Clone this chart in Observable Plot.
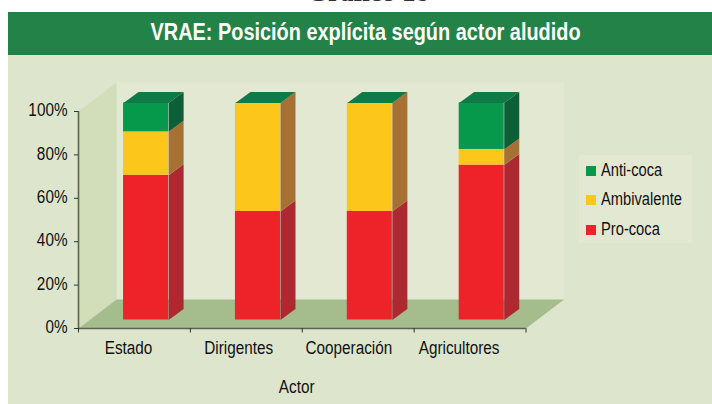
<!DOCTYPE html>
<html lang="es">
<head>
<meta charset="utf-8">
<script src="https://cdn.jsdelivr.net/npm/d3@7"></script>
<script src="https://cdn.jsdelivr.net/npm/@observablehq/plot@0.6"></script>
<style>
  html, body { margin: 0; padding: 0; background: #fff; }
  #page { position: relative; width: 712px; height: 404px; overflow: hidden; font-family: "Liberation Sans", sans-serif; }
  #over { position: absolute; left: 0; width: 736px; top: -23px; text-align: center; font: bold 27px/30px "Liberation Serif", serif; color: #333; }
  #title { position: absolute; left: 8px; right: 0; top: 12px; height: 43px; line-height: 40px; background: #238247; color: #fff; font-weight: bold; font-size: 23px; text-align: center; padding-left: 12px; box-sizing: border-box; }
  #title span { display: inline-block; transform: scaleX(0.865); white-space: nowrap; }
  #plot { position: absolute; left: 8px; top: 55px; width: 704px; height: 349px; background: #dde5cd; }
  #legend { position: absolute; left: 579px; top: 155px; width: 113px; height: 88px; background: #e3e8d3; font-size: 17.5px; color: #111; }
  #legend div { position: absolute; left: 7px; height: 20px; line-height: 20px; white-space: nowrap; }
  #legend i { display: inline-block; width: 10px; height: 10px; margin-right: 5px; }
  #legend span { display: inline-block; transform: scaleX(0.84); transform-origin: left center; }
</style>
</head>
<body>
<div id="page">
  <div id="over">Gráfico 18</div>
  <div id="title"><span>VRAE: Posición explícita según actor aludido</span></div>
  <div id="plot"></div>
  <div id="legend"></div>
</div>
<script>
const actors = ["Estado", "Dirigentes", "Cooperación", "Agricultores"];
const proCoca = [66.7, 50, 50, 71.4];
const ambivalente = [20, 50, 50, 7.2];
const antiCoca = [13.3, 0, 0, 21.4];
const seriesNames = ["Pro-coca", "Ambivalente", "Anti-coca"];
const seriesValues = [proCoca, ambivalente, antiCoca];
const frontColors = ["#ee2229", "#fcc71a", "#07994b"];
const sideColors = ["#ae2831", "#a67133", "#0d5f38"];
const topColor = "#0f7a46";
const yTicks = [0, 20, 40, 60, 80, 100];

// Pseudo-3D depth, expressed in scale units
const pxX = 1 / 111.75, pxY = 100 / 217;
const wallDX = 38 * pxX, wallDY = 29 * pxY;
const barDX = 15 * pxX, barDY = 11 * pxY;
const barLeft = 45 * pxX, barWidth = 45 * pxX;
const barLift = -8.5;
const n = actors.length;

const segments = [];
actors.forEach((actor, i) => {
  let base = 0;
  seriesValues.forEach((vals, s) => {
    if (vals[i] > 0) segments.push({actor, i, s, x1: i + barLeft, x2: i + barLeft + barWidth, y1: base, y2: base + vals[i], fill: frontColors[s], side: sideColors[s]});
    base += vals[i];
  });
});
const poly = (id, fill, pts) => pts.map(([x, y]) => ({id, fill, x, y}));
const sides = segments.flatMap((d, k) => poly("s" + k, d.side, [
  [d.x2, d.y1], [d.x2 + barDX, d.y1 + barDY], [d.x2 + barDX, d.y2 + barDY], [d.x2, d.y2]]));
const tops = actors.flatMap((a, i) => {
  const l = i + barLeft, r = l + barWidth;
  return poly("t" + i, topColor, [[l, 100], [r, 100], [r + barDX, 100 + barDY], [l + barDX, 100 + barDY]]);
});
const leftWall = poly("left", "#d2ddba", [[0, 0], [wallDX, wallDY], [wallDX, 100 + wallDY], [0, 100]]);
const backWall = poly("back", "#e3e8d3", [[wallDX, wallDY], [n + wallDX, wallDY], [n + wallDX, 100 + wallDY], [wallDX, 100 + wallDY]]);
const floor = poly("floor", "#a5bd8d", [[0, 0], [n, 0], [n + wallDX, wallDY], [wallDX, wallDY]]);
const face = (rows, extra = {}) => Plot.line(rows, {x: "x", y: "y", z: "id", fill: "fill", stroke: null, curve: "linear-closed", ...extra});

const chart = Plot.plot({
  width: 704,
  height: 349,
  marginLeft: 70, marginRight: 186.5, marginTop: 56, marginBottom: 76,
  style: {background: "transparent", fontFamily: '"Liberation Sans", sans-serif', fontSize: "18px", color: "#111", overflow: "visible"},
  x: {type: "linear", domain: [0, n]},
  y: {type: "linear", domain: [0, 100]},
  color: {type: "identity"},
  marks: [
    face(backWall),
    face(leftWall),
    face(floor),
    face(sides, {dy: barLift}),
    Plot.rect(segments, {x1: "x1", x2: "x2", y1: "y1", y2: "y2", fill: "fill", dy: barLift}),
    face(tops, {dy: barLift}),
    Plot.ruleY([0], {x1: 0, x2: n, stroke: "#5c6353", strokeWidth: 1.6}),
    Plot.ruleX([0], {y1: 0, y2: 100, stroke: "#5c6353", strokeWidth: 1.6}),
    Plot.axisY({ticks: yTicks, tickFormat: () => "", tickSize: 4, stroke: "#333", label: null}),
    Plot.axisY({ticks: yTicks, tickFormat: d => d + "%", tickSize: 0, tickPadding: 11, dy: -1, label: null, fontSize: 18, fill: "#111"}),
    Plot.axisX({ticks: d3.range(n + 1), tickFormat: () => "", tickSize: 4.5, stroke: "#333", label: null}),
    Plot.text(actors, {x: (d, i) => 0.447 + i * 0.985, y: 0, dy: 20, text: d => d, fontSize: 18, fill: "#111"}),
    Plot.text(["Actor"], {x: 1.95, y: 0, dy: 59, text: d => d, fontSize: 18, fill: "#111"})
  ]
});
document.getElementById("plot").appendChild(chart);

// The reference uses a condensed sans: squeeze the labels horizontally.
chart.querySelectorAll("text").forEach(t => {
  const w = t.getComputedTextLength();
  if (w > 0) {
    t.setAttribute("textLength", w * 0.85);
    t.setAttribute("lengthAdjust", "spacingAndGlyphs");
  }
});

const legend = document.getElementById("legend");
[2, 1, 0].forEach((s, row) => {
  const item = document.createElement("div");
  item.style.top = (4.5 + row * 29.5) + "px";
  const swatch = document.createElement("i");
  swatch.style.background = frontColors[s];
  const label = document.createElement("span");
  label.textContent = seriesNames[s];
  item.appendChild(swatch);
  item.appendChild(label);
  legend.appendChild(item);
});
</script>
</body>
</html>
